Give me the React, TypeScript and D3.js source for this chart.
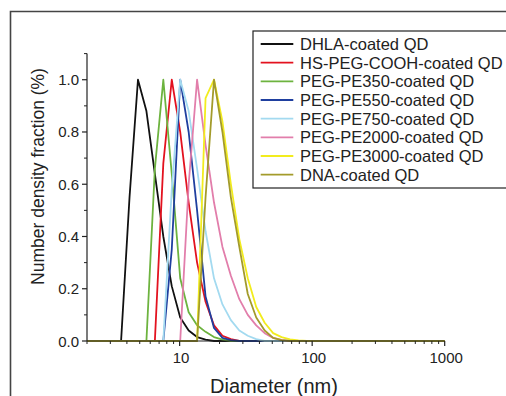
import { useMemo } from "react";
import { scaleLog, scaleLinear, line } from "d3";

// DLS size bins (nm), shared by every series
const bins = [
  2.01, 2.328, 2.696, 3.122, 3.615, 4.187, 4.849, 5.615, 6.503, 7.531, 8.721,
  10.1, 11.7, 13.54, 15.69, 18.17, 21.04, 24.36, 28.21, 32.67, 37.84, 43.82,
  50.75, 58.77, 68.06, 78.82, 91.28, 105.7, 122.4, 141.8, 164.2, 190.1, 220.2,
  255.0, 295.3, 342.0, 396.1, 458.7, 531.2, 615.1, 712.4, 825.0, 955.4, 1106,
];

const labels = [
  "DHLA-coated QD",
  "HS-PEG-COOH-coated QD",
  "PEG-PE350-coated QD",
  "PEG-PE550-coated QD",
  "PEG-PE750-coated QD",
  "PEG-PE2000-coated QD",
  "PEG-PE3000-coated QD",
  "DNA-coated QD",
];

const colors = ["#111111", "#e3121f", "#6db33f", "#1f3f9f", "#a3daf0", "#e27eab", "#f2ec1e", "#a39b2b"];

const dhla = [0, 0, 0, 0, 0, 0.55, 1.0, 0.88, 0.64, 0.4, 0.21, 0.09, 0.04, 0.015, 0.005, 0, 0, 0, 0, 0, 0, 0, 0, 0, 0, 0, 0, 0, 0, 0, 0, 0, 0, 0, 0, 0, 0, 0, 0, 0, 0, 0, 0, 0];
const hsPeg = [0, 0, 0, 0, 0, 0, 0, 0, 0, 0.68, 1.0, 0.8, 0.53, 0.3, 0.15, 0.06, 0.02, 0.007, 0, 0, 0, 0, 0, 0, 0, 0, 0, 0, 0, 0, 0, 0, 0, 0, 0, 0, 0, 0, 0, 0, 0, 0, 0, 0];
const pe350 = [0, 0, 0, 0, 0, 0, 0, 0, 0.66, 1.0, 0.64, 0.24, 0.11, 0.06, 0.035, 0.015, 0.005, 0, 0, 0, 0, 0, 0, 0, 0, 0, 0, 0, 0, 0, 0, 0, 0, 0, 0, 0, 0, 0, 0, 0, 0, 0, 0, 0];
const pe550 = [0, 0, 0, 0, 0, 0, 0, 0, 0, 0, 0.35, 1.0, 0.8, 0.5, 0.17, 0.05, 0.012, 0.003, 0, 0, 0, 0, 0, 0, 0, 0, 0, 0, 0, 0, 0, 0, 0, 0, 0, 0, 0, 0, 0, 0, 0, 0, 0, 0];
const pe750 = [0, 0, 0, 0, 0, 0, 0, 0, 0, 0, 0.58, 1.0, 0.88, 0.66, 0.42, 0.24, 0.14, 0.08, 0.04, 0.02, 0.007, 0, 0, 0, 0, 0, 0, 0, 0, 0, 0, 0, 0, 0, 0, 0, 0, 0, 0, 0, 0, 0, 0, 0];
const pe2000 = [0, 0, 0, 0, 0, 0, 0, 0, 0, 0, 0, 0, 0.6, 1.0, 0.75, 0.53, 0.36, 0.25, 0.16, 0.1, 0.06, 0.03, 0.012, 0.004, 0, 0, 0, 0, 0, 0, 0, 0, 0, 0, 0, 0, 0, 0, 0, 0, 0, 0, 0, 0];
const pe3000 = [0, 0, 0, 0, 0, 0, 0, 0, 0, 0, 0, 0, 0, 0, 0.93, 1.0, 0.84, 0.6, 0.39, 0.24, 0.13, 0.07, 0.03, 0.015, 0.006, 0.002, 0, 0, 0, 0, 0, 0, 0, 0, 0, 0, 0, 0, 0, 0, 0, 0, 0, 0];
const dna = [0, 0, 0, 0, 0, 0, 0, 0, 0, 0, 0, 0, 0, 0, 0.55, 1.0, 0.8, 0.55, 0.36, 0.18, 0.09, 0.04, 0.012, 0.003, 0, 0, 0, 0, 0, 0, 0, 0, 0, 0, 0, 0, 0, 0, 0, 0, 0, 0, 0, 0];

const series = [dhla, hsPeg, pe350, pe550, pe750, pe2000, pe3000, dna];

const xMajor = [10, 100, 1000];
const yMajor = [0, 0.2, 0.4, 0.6, 0.8, 1.0];
const yMinor = [0.1, 0.3, 0.5, 0.7, 0.9, 1.1];

const FONT = "'Liberation Sans', Arial, Helvetica, sans-serif";
const INK = "#222";

export default function App() {
  const W = 506;
  const H = 396;
  const plot = { left: 87, right: 444.7, top: 53.6, bottom: 341 };

  const x = scaleLog().domain([2, 1000]).range([plot.left, plot.right]);
  const y = scaleLinear().domain([0, 1.1]).range([plot.bottom, plot.top]);

  const xTicks = useMemo(() => x.ticks(), []);

  const path = line<number>()
    .x((_, i) => x(bins[i]))
    .y((d) => y(d));

  const legend = { x: 253, y: 31, h: 157, row: 18.67 };

  return (
    <svg
      width={W}
      height={H}
      viewBox={`0 0 ${W} ${H}`}
      style={{ position: "absolute", left: 0, top: 0, background: "#fff" }}
      fontFamily={FONT}
    >
      <defs>
        <clipPath id="plotclip">
          <rect x={plot.left} y={0} width={plot.right - plot.left} height={plot.bottom + 2} />
        </clipPath>
      </defs>

      {/* outer figure frame */}
      <path d={`M10.5,${H + 2} L10.5,11.5 L${W + 2},11.5`} fill="none" stroke="#444" strokeWidth={1.6} />

      {/* curves */}
      <g clipPath="url(#plotclip)">
        {series.map((s, i) => (
          <path key={labels[i]} d={path(s) ?? ""} fill="none" stroke={colors[i]} strokeWidth={1.8} strokeLinejoin="round" />
        ))}
      </g>

      {/* y axis */}
      <line x1={plot.left} x2={plot.left} y1={plot.top} y2={plot.bottom} stroke={INK} strokeWidth={1.2} />
      {yMajor.map((v) => (
        <g key={`ym-${v}`}>
          <line x1={plot.left - 5} x2={plot.left} y1={y(v)} y2={y(v)} stroke={INK} strokeWidth={1.2} />
          <text x={plot.left - 8} y={y(v) + 5.5} textAnchor="end" fontSize={15} fill={INK}>
            {v.toFixed(1)}
          </text>
        </g>
      ))}
      {yMinor.map((v) => (
        <line key={`yn-${v}`} x1={plot.left - 3} x2={plot.left} y1={y(v)} y2={y(v)} stroke={INK} strokeWidth={1} />
      ))}

      {/* x axis */}
      <line x1={plot.left} x2={plot.right} y1={plot.bottom} y2={plot.bottom} stroke={INK} strokeWidth={1.2} />
      {xTicks.map((t) => {
        const major = xMajor.includes(t);
        return (
          <line
            key={`xt-${t}`}
            x1={x(t)}
            x2={x(t)}
            y1={plot.bottom}
            y2={plot.bottom + (major ? 5 : 3)}
            stroke={INK}
            strokeWidth={major ? 1.2 : 1}
          />
        );
      })}
      {xMajor.map((t) => (
        <text key={`xl-${t}`} x={x(t) + 1.5} y={363} textAnchor="middle" fontSize={15} fill={INK}>
          {t}
        </text>
      ))}

      {/* axis titles */}
      <text x={(203 + 345) / 2} y={393} textAnchor="middle" fontSize={20} fill={INK}>
        Diameter (nm)
      </text>
      <text
        x={44}
        y={176.5}
        textAnchor="middle"
        fontSize={17.5}
        fill={INK}
        transform={`rotate(-90, 44, 176.5)`}
      >
        Number density fraction (%)
      </text>

      {/* legend */}
      <rect x={legend.x} y={legend.y} width={W} height={legend.h} fill="#fff" stroke={INK} strokeWidth={1.2} />
      {labels.map((lab, i) => {
        const cy = 44 + i * legend.row;
        return (
          <g key={`lg-${lab}`}>
            <line x1={260.7} x2={293.3} y1={cy} y2={cy} stroke={colors[i]} strokeWidth={1.8} />
            <text x={300} y={cy + 6} fontSize={16.5} fill={INK}>
              {lab}
            </text>
          </g>
        );
      })}
    </svg>
  );
}
